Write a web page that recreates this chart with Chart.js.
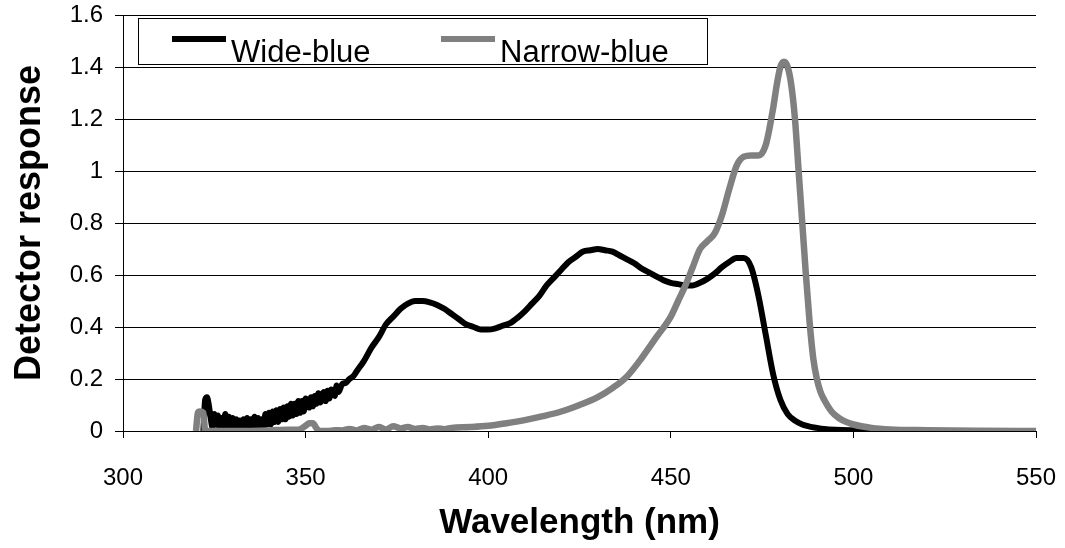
<!DOCTYPE html>
<html>
<head>
<meta charset="utf-8">
<script src="https://cdn.jsdelivr.net/npm/chart.js@4"></script>
<style>
  html, body { margin: 0; padding: 0; background: #fff; }
  #wrap { width: 1065px; height: 548px; position: relative; }
</style>
</head>
<body>
<div id="wrap"><canvas id="detectorChart"></canvas></div>
<script>
/// === DATA === ///
const seriesLabels = ['Wide-blue', 'Narrow-blue'];

const wideNm = [322, 322.5, 323, 323.5, 324, 324.5, 325, 325.5, 326, 326.5, 327, 327.5, 328, 328.5, 329, 329.5, 330, 330.5,
  331, 331.5, 332, 332.5, 333, 333.5, 334, 334.5, 335, 335.5, 336, 336.5, 337, 337.5, 338, 338.5, 339, 339.5,
  340, 340.5, 341, 341.5, 342, 342.5, 343, 343.5, 344, 344.5, 345, 345.5, 346, 346.5, 347, 347.5, 348, 348.5,
  349, 349.5, 350, 351, 351.5, 352, 352.5, 353, 353.5, 354, 355, 355.5, 356, 356.5, 357, 358, 358.5, 359, 360,
  361, 362, 363, 364, 366, 368, 370, 372, 374, 376, 378, 380, 382, 384, 386, 388, 390, 392, 394, 396,
  398, 400, 402, 404, 406, 408, 410, 412, 414, 416, 418, 420, 422, 424, 426, 428, 430, 432, 434, 436,
  438, 440, 442, 444, 446, 448, 450, 452, 454, 456, 458, 460, 462, 464, 466, 468, 470, 472, 474, 476,
  478, 480, 482, 484, 486, 488, 490, 492, 495, 500, 510, 520, 535, 550];
const wideResponse = [0, 0.12, 0.13, 0.1, 0.05, 0.015, 0.065, 0.025, 0.06, 0.005, 0.05, 0.015, 0.065, 0.02, 0.055, 0.01, 0.05, 0.015,
  0.045, 0, 0.04, 0.005, 0.045, 0.01, 0.05, 0, 0.045, 0.005, 0.055, 0.015, 0.05, 0, 0.045, 0.015, 0.065, 0.025,
  0.07, 0.025, 0.075, 0.035, 0.08, 0.035, 0.085, 0.045, 0.09, 0.045, 0.095, 0.055, 0.105, 0.06, 0.105, 0.065, 0.115, 0.07,
  0.115, 0.075, 0.125, 0.09, 0.13, 0.095, 0.135, 0.105, 0.145, 0.11, 0.15, 0.115, 0.155, 0.125, 0.16, 0.135, 0.175, 0.15, 0.18,
  0.185, 0.2, 0.21, 0.23, 0.27, 0.32, 0.36, 0.41, 0.44, 0.47, 0.49, 0.5, 0.5, 0.495, 0.485, 0.47, 0.45, 0.43, 0.41, 0.4,
  0.39, 0.39, 0.395, 0.405, 0.415, 0.435, 0.46, 0.49, 0.52, 0.56, 0.59, 0.62, 0.65, 0.67, 0.69, 0.695, 0.7, 0.695, 0.69, 0.675,
  0.66, 0.645, 0.625, 0.61, 0.595, 0.58, 0.57, 0.565, 0.56, 0.56, 0.57, 0.585, 0.605, 0.63, 0.65, 0.665, 0.665, 0.63, 0.52, 0.37,
  0.22, 0.12, 0.065, 0.04, 0.025, 0.017, 0.012, 0.008, 0.005, 0.003, 0.001, 0, 0, 0];

const narrowNm = [320, 320.5, 321, 322, 322.5, 323, 330, 340, 345, 348, 350, 351, 352, 353, 354, 356, 358, 360, 362, 364,
  366, 368, 370, 372, 374, 376, 378, 380, 382, 384, 386, 388, 390, 395, 400, 405, 410, 415, 420, 425,
  430, 434, 438, 442, 446, 450, 452, 454, 456, 458, 460, 462, 464, 466, 468, 470, 472, 474, 476, 478,
  479, 480, 481, 482, 483, 484, 485, 486, 487, 488, 489, 490, 491, 492, 494, 496, 498, 500, 505, 510,
  520, 535, 550];
const narrowResponse = [0, 0.07, 0.075, 0.07, 0, 0, 0, 0.002, 0.005, 0.005, 0.02, 0.03, 0.03, 0.01, 0, 0, 0.003, 0.002, 0.008, 0.002,
  0.012, 0.005, 0.015, 0.006, 0.018, 0.01, 0.015, 0.008, 0.012, 0.006, 0.01, 0.007, 0.012, 0.015, 0.02, 0.03, 0.042, 0.057, 0.075, 0.1,
  0.13, 0.165, 0.21, 0.28, 0.36, 0.44, 0.5, 0.56, 0.63, 0.7, 0.73, 0.76, 0.83, 0.93, 1.02, 1.055, 1.06, 1.06, 1.1, 1.24,
  1.33, 1.4, 1.42, 1.4, 1.33, 1.2, 1.0, 0.8, 0.6, 0.42, 0.28, 0.2, 0.15, 0.12, 0.075, 0.05, 0.035, 0.025, 0.012, 0.006,
  0.003, 0.001, 0];

const xTicks = [300, 350, 400, 450, 500, 550];
const yTicks = [0, 0.2, 0.4, 0.6, 0.8, 1, 1.2, 1.4, 1.6];

/// === HELPERS === ///
const toPoints = (nm, values) => nm.map((x, i) => ({ x, y: values[i] }));

// Excel style legend in a framed box inside the plot
const legendBox = {
  id: 'legendBox',
  afterDraw(chart) {
    const { ctx, chartArea } = chart;
    const left = chartArea.left + 15;
    const top = chartArea.top + 3;
    ctx.save();
    ctx.fillStyle = '#fff';
    ctx.fillRect(left, top, 569, 46);
    ctx.strokeStyle = '#000';
    ctx.lineWidth = 1;
    ctx.strokeRect(left + 0.5, top + 0.5, 569, 46);
    const offsets = [34, 303];
    chart.data.datasets.forEach((ds, i) => {
      const x = left + offsets[i];
      ctx.strokeStyle = ds.borderColor;
      ctx.lineWidth = 6;
      ctx.beginPath();
      ctx.moveTo(x, top + 21);
      ctx.lineTo(x + 54, top + 21);
      ctx.stroke();
      ctx.fillStyle = '#000';
      ctx.font = '31px "Liberation Sans", Arial, sans-serif';
      ctx.textBaseline = 'alphabetic';
      ctx.fillText(ds.label, x + 59, top + 44);
    });
    ctx.restore();
  }
};

/// === CHART === ///
Chart.defaults.font.family = '"Liberation Sans", Arial, sans-serif';
Chart.defaults.color = '#000';

new Chart(document.getElementById('detectorChart'), {
  type: 'line',
  data: {
    datasets: [
      {
        label: seriesLabels[0],
        data: toPoints(wideNm, wideResponse),
        borderColor: '#000',
        borderWidth: 6,
        pointRadius: 0,
        cubicInterpolationMode: 'monotone',
        order: 1
      },
      {
        label: seriesLabels[1],
        data: toPoints(narrowNm, narrowResponse),
        borderColor: '#808080',
        borderWidth: 6.5,
        pointRadius: 0,
        cubicInterpolationMode: 'monotone',
        order: 0
      }
    ]
  },
  options: {
    responsive: true,
    maintainAspectRatio: false,
    animation: false,
    layout: { padding: { left: 0, top: 15, right: 29, bottom: 0 } },
    plugins: {
      legend: { display: false },
      tooltip: { enabled: false }
    },
    scales: {
      x: {
        type: 'linear',
        min: xTicks[0],
        max: xTicks[xTicks.length - 1],
        afterBuildTicks: scale => { scale.ticks = xTicks.map(v => ({ value: v })); },
        afterFit: scale => {
          scale.height = 117;
          scale.paddingLeft = 0;
          scale.paddingRight = 0;
        },
        ticks: { font: { size: 24 }, padding: 26, maxRotation: 0 },
        grid: { drawOnChartArea: false, color: '#000', tickLength: 7 },
        border: { color: '#000', width: 1 },
        title: {
          display: true,
          text: 'Wavelength (nm)',
          font: { size: 35, weight: 'bold' },
          padding: { top: 0, bottom: 4 }
        }
      },
      y: {
        min: yTicks[0],
        max: yTicks[yTicks.length - 1],
        afterBuildTicks: scale => { scale.ticks = yTicks.map(v => ({ value: v })); },
        afterFit: scale => {
          scale.width = 123;
          scale.paddingTop = 0;
          scale.paddingBottom = 0;
        },
        ticks: { font: { size: 24 }, padding: 12, callback: v => String(+v.toFixed(1)) },
        grid: { color: '#000', tickLength: 8 },
        border: { color: '#000', width: 1 },
        title: {
          display: true,
          text: 'Detector response',
          font: { size: 36, weight: 'bold' },
          padding: { top: 8, bottom: 0 }
        }
      }
    }
  },
  plugins: [legendBox]
});
</script>
</body>
</html>
